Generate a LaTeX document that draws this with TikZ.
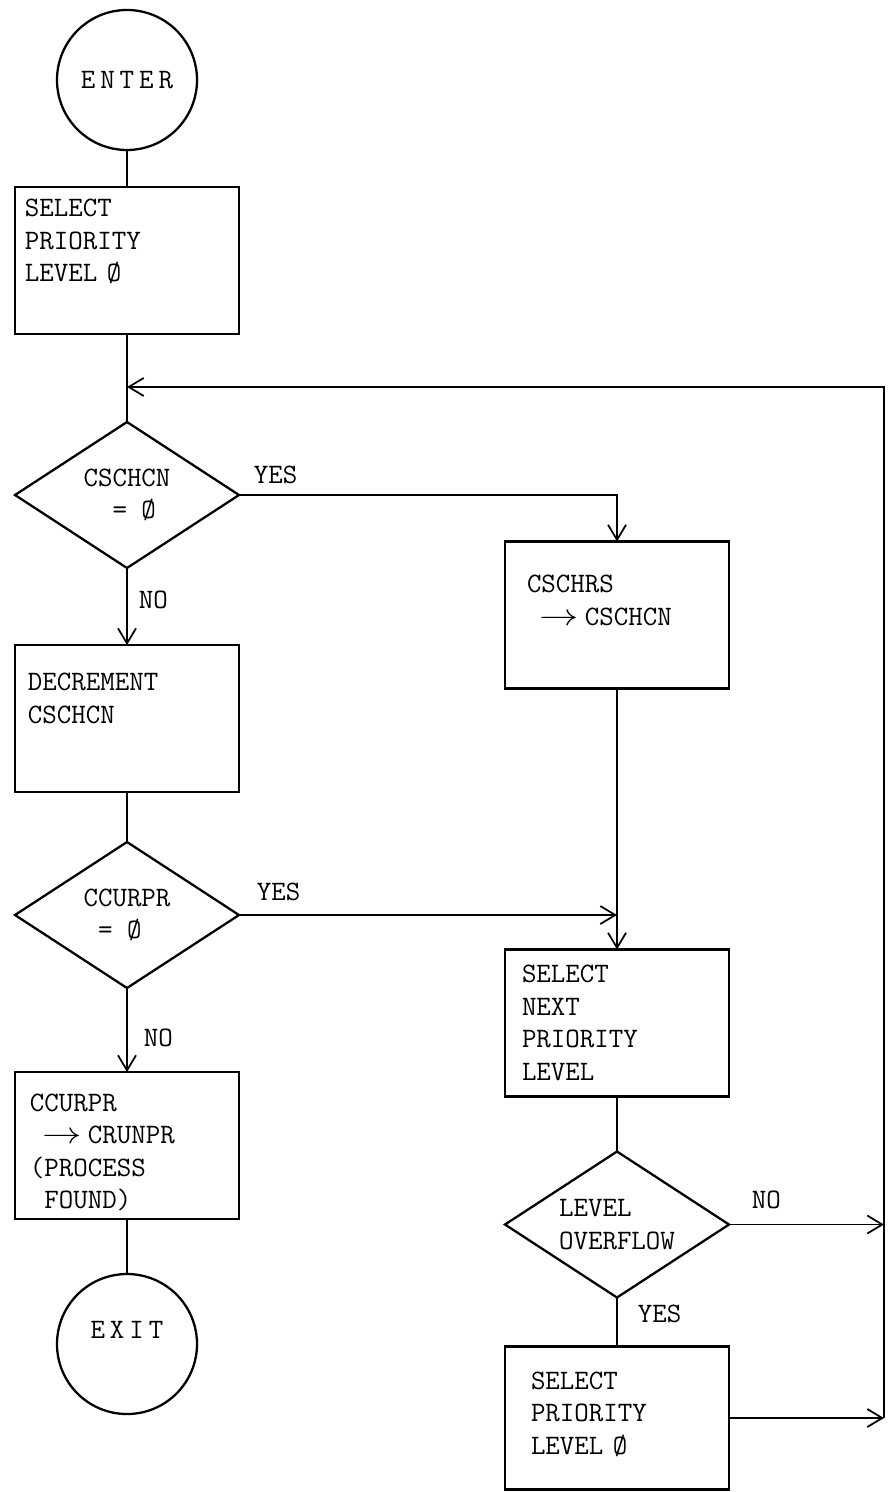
\documentclass[tikz,border=0pt]{standalone}
\usepackage{graphicx}
\usepackage{tikz}
\usetikzlibrary{positioning,arrows.meta,shapes.geometric}

\newcommand{\goes}{\leavevmode\rlap{\hspace{.45em}\smash{\scalebox{1.3}[1]{$\rightarrow$}}}\hphantom{XXXX}}
\newcommand{\ls}{\kern1mm}

\tikzset{
  term/.style={draw, circle, line width=1.3pt, minimum size=28mm, inner sep=0pt, outer sep=0pt},
  box/.style={draw, line width=1.3pt, minimum width=44.8mm, minimum height=29.4mm, inner sep=0pt, outer sep=0pt, text width=#1, align=left},
  box/.default=38mm,
  test/.style={draw, diamond, aspect=1.5, line width=1.3pt, minimum width=44.8mm, minimum height=29.2mm, inner sep=0pt, outer sep=0pt, align=left},
  lbl/.style={inner sep=0pt, anchor=west},
  arr/.style={-{Straight Barb[length=3mm,width=3.6mm]}},
}

\begin{document}
\begin{tikzpicture}[x=0.2mm, y=-0.2mm, line width=1pt, font=\ttfamily\fontsize{16pt}{18.5pt}\selectfont]
\useasboundingbox (0,0) rectangle (893,1492);
% left column
\node[term] (enter) at (127,80) {E\ls N\ls T\ls E\ls R};
\node[box=40.8mm, text depth=21mm] (sel) [below=7.4mm of enter] {SELECT\\PRIORITY\\LEVEL \O};
\node[test] (chk) [below=17.6mm of sel] {CSCHCN\\\hphantom{CS}= \O};
\node[box=39.6mm, text depth=14.6mm] (dec) [below=15.4mm of chk] {DECREMENT\\CSCHCN};
\node[test] (cur) [below=10mm of dec] {CCURPR\\\hphantom{C}= \O};
\node[box=38.8mm, text depth=17.2mm] (run) [below=16.8mm of cur] {CCURPR\\\goes CRUNPR\\(PROCESS\\\leavevmode\hphantom{(}FOUND)};
\node[term, text depth=5.6mm] (exit) [below=11mm of run] {E\ls X\ls I\ls T};
% right column
\node[box=36mm, text depth=12.4mm] (rst) at (617,615) {CSCHRS\\\goes CSCHCN};
\node[box=38mm, text depth=19.6mm] (nxt) [below=52.2mm of rst] {SELECT\\NEXT\\PRIORITY\\LEVEL};
\node[test] (ovf) [below=11mm of nxt] {LEVEL\\OVERFLOW};
\node[box=34.4mm, minimum height=28.6mm, text depth=15mm] (sel0) [below=9.8mm of ovf] {SELECT\\PRIORITY\\LEVEL \O};
\coordinate (rt) at (884,387);
% branch labels
\node[lbl] (yes1) at ([xshift=2.8mm, yshift=4mm]chk.east) {YES};
\node[lbl] (no1) at ([xshift=2.2mm, yshift=-6.4mm]chk.south) {NO};
\node[lbl] (yes2) at ([xshift=3.4mm, yshift=4.6mm]cur.east) {YES};
\node[lbl] (no2) at ([xshift=3.2mm, yshift=-10mm]cur.south) {NO};
\node[lbl] (no3) at ([xshift=4.4mm, yshift=5mm]ovf.east) {NO};
\node[lbl] (yes3) at ([xshift=4mm, yshift=-3.2mm]ovf.south) {YES};
% flow lines
\draw (enter) -- (sel);
\draw (sel) -- (chk);
\draw[arr] (chk) -- (dec);
\draw (dec) -- (cur);
\draw[arr] (cur) -- (run);
\draw (run) -- (exit);
\draw[arr] (chk.east) -| (rst.north);
\draw[arr] (rst) -- (nxt);
\draw[arr] (cur.east) -- (cur.east -| nxt.north);
\draw (nxt) -- (ovf);
\draw (ovf) -- (sel0);
\draw[arr] (ovf.east) -- (ovf.east -| rt);
\draw[arr] (sel0.east) -- (sel0.east -| rt);
\draw[arr] (sel0.east -| rt) -- (rt) -- (rt -| sel.south);
\end{tikzpicture}
\end{document}
